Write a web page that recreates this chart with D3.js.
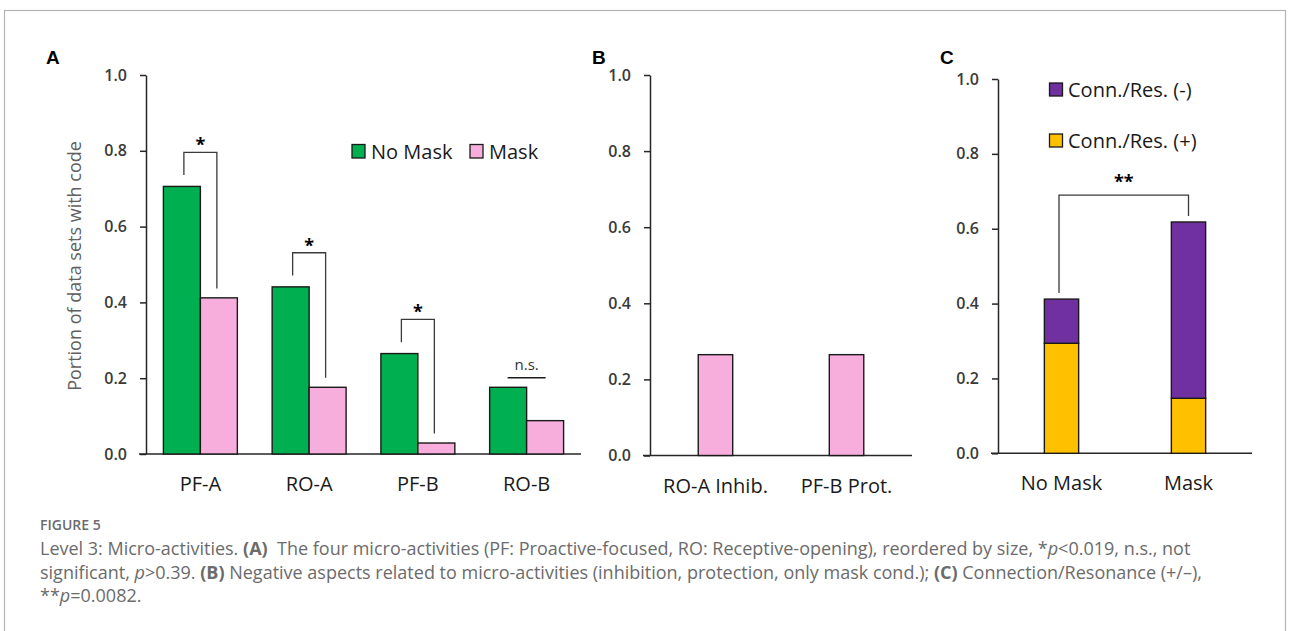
<!DOCTYPE html>
<html>
<head>
<meta charset="utf-8">
<script src="https://d3js.org/d3.v7.min.js"></script>
<style>
body { margin: 0; background: #fff; }
text { font-family: "Open Sans", sans-serif; }
.tick text { font-size: 16px; fill: #3a3a3a; font-weight: 600; }
.xaxis .tick text { font-size: 20px; fill: #1a1a1a; font-weight: normal; }
.domain { stroke: #262626; stroke-width: 1.5px; }
.tick line { stroke: #262626; stroke-width: 1.5px; }
.panel-label { font-family: "Liberation Sans", Arial, sans-serif; font-weight: bold; font-size: 19px; fill: #000; }
.legend text { font-size: 20px; fill: #1a1a1a; }
.caption { font-size: 18px; fill: #6b6b6b; }
</style>
</head>
<body>
<svg id="fig" width="1290" height="631"></svg>
<script>
// ---- DATA ----
var yTicks = [0, 0.2, 0.4, 0.6, 0.8, 1.0];

// panel A: four micro-activities
var catsA = ["PF-A", "RO-A", "PF-B", "RO-B"];
var noMaskA = [0.706, 0.441, 0.265, 0.176];
var maskA = [0.412, 0.176, 0.029, 0.088];
var sigA = ["*", "*", "*", "n.s."];

// panel B: negative aspects (mask only)
var catsB = ["RO-A Inhib.", "PF-B Prot."];
var maskB = [0.265, 0.265];

// panel C: connection / resonance
var catsC = ["No Mask", "Mask"];
var connPos = [0.294, 0.147];
var connNeg = [0.118, 0.471];
var sigC = "**";

var colors = {
	noMask: "#00B050",
	mask: "#F7AEDC",
	pos: "#FFC000",
	neg: "#7030A0"
};

var svg = d3.select("#fig");

// frame
svg.append("rect")
	.attr("x", 4.5).attr("y", 10.5)
	.attr("width", 1281).attr("height", 640)
	.attr("fill", "none")
	.attr("stroke", "#b4b4b4")
	.attr("stroke-width", 1.2);

function drawAxes(y, x, xLeft, xRight, yZero) {
	var yAxis = d3.axisLeft(y)
		.tickValues(yTicks)
		.tickFormat(d3.format(".1f"))
		.tickSize(6)
		.tickSizeOuter(0)
		.tickPadding(13);

	svg.append("g")
		.attr("class", "yaxis")
		.attr("transform", "translate(" + xLeft + ",0)")
		.call(yAxis);

	svg.append("g")
		.attr("class", "xaxis")
		.attr("transform", "translate(0," + yZero + ")")
		.call(d3.axisBottom(x).tickSize(0).tickPadding(23))
		.select(".domain")
		.attr("d", "M" + (xLeft - 7) + ",0H" + xRight);
}

function panelA() {
	var left = 146, right = 581
	, y = d3.scaleLinear().domain([0, 1]).range([454, 75])
	, x0 = d3.scaleBand().domain(catsA).range([left, right]).paddingInner(0.32).paddingOuter(0.16)
	, x1 = d3.scaleBand().domain(["noMask", "mask"]).range([0, x0.bandwidth()])
	, rows = catsA.map(function(c, i) {
		return { cat: c, noMask: noMaskA[i], mask: maskA[i], sig: sigA[i] };
	});

	drawAxes(y, x0, left, right, y(0));

	var grp = svg.append("g").selectAll("g")
		.data(rows)
		.enter().append("g")
		.attr("transform", function(d) { return "translate(" + x0(d.cat) + ",0)"; });

	grp.selectAll("rect")
		.data(function(d) { return ["noMask", "mask"].map(function(k) { return { key: k, value: d[k] }; }); })
		.enter().append("rect")
		.attr("x", function(d) { return x1(d.key); })
		.attr("y", function(d) { return y(d.value); })
		.attr("width", x1.bandwidth())
		.attr("height", function(d) { return y(0) - y(d.value); })
		.attr("fill", function(d) { return colors[d.key]; })
		.attr("stroke", "#1a1a1a")
		.attr("stroke-width", 1.4);

	// significance brackets
	rows.forEach(function(d) {
		var cx1 = x0(d.cat) + x1("noMask") + x1.bandwidth() / 2 + 2
		, cx2 = x0(d.cat) + x1("mask") + x1.bandwidth() / 2 - 2
		, mid = x0(d.cat) + x0.bandwidth() / 2
		, top;

		if (d.sig === "*") {
			top = y(d.noMask + 0.09);
			svg.append("path")
				.attr("d", "M" + cx1 + "," + y(d.noMask + 0.03) + "V" + top + "H" + cx2 + "V" + y(d.mask + 0.025))
				.attr("fill", "none")
				.attr("stroke", "#3a3a3a")
				.attr("stroke-width", 1.3);
			svg.append("text")
				.attr("x", mid).attr("y", top - 1)
				.attr("text-anchor", "middle")
				.style("font-size", "18px").style("font-weight", "bold")
				.text(d.sig);
		} else {
			top = y(Math.max(d.noMask, d.mask) + 0.025);
			svg.append("line")
				.attr("x1", mid - 19).attr("x2", mid + 19)
				.attr("y1", top).attr("y2", top)
				.attr("stroke", "#1a1a1a").attr("stroke-width", 1.5);
			svg.append("text")
				.attr("x", mid).attr("y", top - 8)
				.attr("text-anchor", "middle")
				.style("font-size", "15px").style("fill", "#333")
				.text(d.sig);
		}
	});

	// y title
	svg.append("text")
		.attr("transform", "translate(81,266) rotate(-90)")
		.attr("text-anchor", "middle")
		.style("font-size", "18px").style("fill", "#606060")
		.text("Portion of data sets with code");

	// legend
	var legend = svg.append("g").attr("class", "legend");
	[{ t: "No Mask", c: colors.noMask, x: 352 }, { t: "Mask", c: colors.mask, x: 470 }].forEach(function(l) {
		legend.append("rect")
			.attr("x", l.x).attr("y", 144.5).attr("width", 13).attr("height", 13.5)
			.attr("fill", l.c).attr("stroke", "#1a1a1a").attr("stroke-width", 1.3);
		legend.append("text")
			.attr("x", l.x + 19).attr("y", 158.5)
			.text(l.t);
	});

	svg.append("text").attr("class", "panel-label").attr("x", 46).attr("y", 64).text("A");
}

function panelB() {
	var left = 650, right = 912
	, y = d3.scaleLinear().domain([0, 1]).range([455.5, 75])
	, x = d3.scaleBand().domain(catsB).range([left, right]).paddingInner(0.737).paddingOuter(0.368);

	drawAxes(y, x, left, right, y(0));

	svg.append("g").selectAll("rect")
		.data(catsB)
		.enter().append("rect")
		.attr("x", function(d) { return x(d); })
		.attr("y", function(d, i) { return y(maskB[i]); })
		.attr("width", x.bandwidth())
		.attr("height", function(d, i) { return y(0) - y(maskB[i]); })
		.attr("fill", colors.mask)
		.attr("stroke", "#1a1a1a")
		.attr("stroke-width", 1.4);

	svg.append("text").attr("class", "panel-label").attr("x", 592).attr("y", 64).text("B");
}

function panelC() {
	var left = 998, right = 1252
	, y = d3.scaleLinear().domain([0, 1]).range([453.3, 79])
	, x = d3.scaleBand().domain(catsC).range([left, right]).paddingInner(0.73).paddingOuter(0.365)
	, rows = catsC.map(function(c, i) { return { cat: c, pos: connPos[i], neg: connNeg[i] }; })
	, series = d3.stack().keys(["pos", "neg"])(rows);

	drawAxes(y, x, left, right, y(0));

	svg.append("g").selectAll("g")
		.data(series)
		.enter().append("g")
		.attr("fill", function(d) { return colors[d.key]; })
		.selectAll("rect")
		.data(function(d) { return d; })
		.enter().append("rect")
		.attr("x", function(d) { return x(d.data.cat); })
		.attr("y", function(d) { return y(d[1]); })
		.attr("width", x.bandwidth())
		.attr("height", function(d) { return y(d[0]) - y(d[1]); })
		.attr("stroke", "#1a1a1a")
		.attr("stroke-width", 1.4);

	// bracket between the two totals
	var tot = rows.map(function(d) { return d.pos + d.neg; })
	, cx1 = x(catsC[0]) + x.bandwidth() / 2 - 2.5
	, cx2 = x(catsC[1]) + x.bandwidth() / 2
	, top = y(d3.max(tot) + 0.072);

	svg.append("path")
		.attr("d", "M" + cx1 + "," + y(tot[0] + 0.016) + "V" + top + "H" + cx2 + "V" + y(tot[1] + 0.016))
		.attr("fill", "none")
		.attr("stroke", "#3a3a3a")
		.attr("stroke-width", 1.3);
	svg.append("text")
		.attr("x", (cx1 + cx2) / 2).attr("y", top - 7)
		.attr("text-anchor", "middle")
		.style("font-size", "18px").style("font-weight", "bold")
		.text(sigC);

	// legend
	var legend = svg.append("g").attr("class", "legend");
	[{ t: "Conn./Res. (-)", c: colors.neg, y: 83 }, { t: "Conn./Res. (+)", c: colors.pos, y: 134 }].forEach(function(l) {
		legend.append("rect")
			.attr("x", 1049.5).attr("y", l.y).attr("width", 13).attr("height", 13)
			.attr("fill", l.c).attr("stroke", "#1a1a1a").attr("stroke-width", 1.3);
		legend.append("text")
			.attr("x", 1068).attr("y", l.y + 13.5)
			.text(l.t);
	});

	svg.append("text").attr("class", "panel-label").attr("x", 940).attr("y", 64).text("C");
}

panelA();
panelB();
panelC();

// ---- caption ----
svg.append("text")
	.attr("x", 40).attr("y", 530)
	.style("font-size", "14px").style("font-weight", "600").style("fill", "#6b6b6b")
	.text("FIGURE 5");

var captionLines = [
	[["Level 3: Micro-activities. ", ""], ["(A)", "b"], ["  The four micro-activities (PF: Proactive-focused, RO: Receptive-opening), reordered by size, *", ""], ["p", "i"], ["<0.019, n.s., not", ""]],
	[["significant, ", ""], ["p", "i"], [">0.39. ", ""], ["(B)", "b"], [" Negative aspects related to micro-activities (inhibition, protection, only mask cond.); ", ""], ["(C)", "b"], [" Connection/Resonance (+/\u2013),", ""]],
	[["**", ""], ["p", "i"], ["=0.0082.", ""]]
];

captionLines.forEach(function(line, i) {
	var t = svg.append("text")
		.attr("class", "caption")
		.attr("x", 40).attr("y", 555 + i * 23.5)
		.attr("xml:space", "preserve");
	line.forEach(function(part) {
		t.append("tspan")
			.style("font-weight", part[1] === "b" ? "bold" : "normal")
			.style("font-style", part[1] === "i" ? "italic" : "normal")
			.text(part[0]);
	});
});
</script>
</body>
</html>
